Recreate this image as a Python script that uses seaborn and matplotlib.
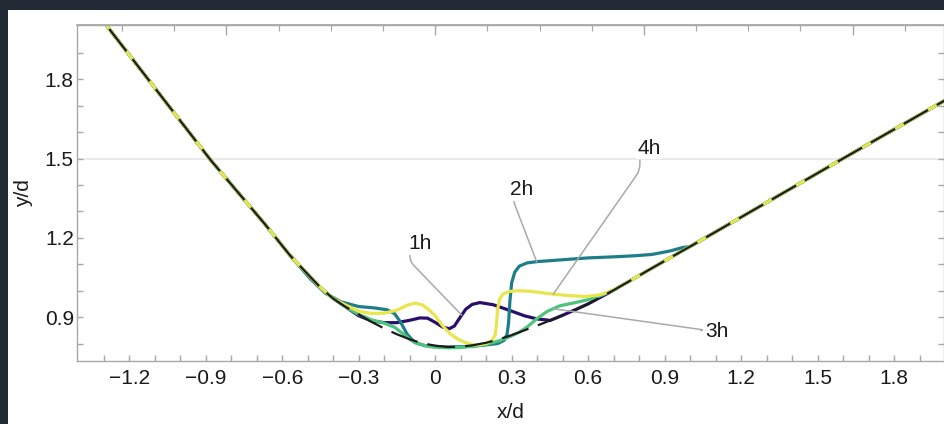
import numpy as np
import pandas as pd
import matplotlib
matplotlib.use("Agg")
import matplotlib.pyplot as plt
from matplotlib.patches import Rectangle
from matplotlib.ticker import FixedLocator, FixedFormatter, NullFormatter
import seaborn as sns

# Initial bed profile (dashed reference)
base_x = [-1.40, -1.29, -0.88, -0.67, -0.57, -0.49, -0.45, -0.40, -0.35, -0.30,
          -0.25, -0.20, -0.15, -0.10, -0.05, 0.00, 0.05, 0.10, 0.15, 0.20,
          0.25, 0.30, 0.35, 0.40, 0.45, 0.50, 0.55, 0.60, 0.65, 0.70,
          0.76, 0.85, 0.95, 1.00, 1.60, 2.00]
base_y = [2.141, 2.004, 1.493, 1.254, 1.134, 1.052, 1.012, 0.970, 0.938, 0.910,
          0.882, 0.857, 0.835, 0.816, 0.801, 0.792, 0.787, 0.788, 0.794, 0.803,
          0.816, 0.832, 0.850, 0.868, 0.887, 0.907, 0.928, 0.950, 0.976, 1.002,
          1.035, 1.085, 1.140, 1.167, 1.500, 1.720]

# Deformed part of each profile (outside it the profile sits on the initial bed)
mid_1h_x = [-0.30, -0.25, -0.20, -0.15, -0.10, -0.06, -0.03, 0.00, 0.03, 0.055,
            0.075, 0.097, 0.12, 0.145, 0.175, 0.227, 0.29, 0.35, 0.40, 0.44]
mid_1h_y = [0.905, 0.886, 0.879, 0.879, 0.888, 0.897, 0.896, 0.880, 0.862, 0.856,
            0.866, 0.898, 0.930, 0.948, 0.955, 0.947, 0.926, 0.905, 0.893, 0.889]

mid_2h_x = [-0.49, -0.43, -0.37, -0.30, -0.24, -0.19, -0.16, -0.135, -0.11, -0.08,
            -0.04, 0.00, 0.05, 0.10, 0.15, 0.20, 0.245, 0.27, 0.282, 0.288,
            0.293, 0.30, 0.312, 0.33, 0.36, 0.40, 0.50, 0.60, 0.70, 0.78,
            0.85, 0.92, 0.97]
mid_2h_y = [1.045, 0.990, 0.958, 0.940, 0.935, 0.928, 0.914, 0.880, 0.835, 0.804,
            0.792, 0.789, 0.787, 0.788, 0.790, 0.795, 0.800, 0.812, 0.835, 0.880,
            0.960, 1.030, 1.070, 1.093, 1.105, 1.110, 1.117, 1.124, 1.128, 1.132,
            1.137, 1.150, 1.163]

mid_3h_x = [-0.25, -0.20, -0.16, -0.13, -0.10, -0.07, -0.03, 0.00, 0.05, 0.10,
            0.15, 0.20, 0.25, 0.29, 0.33, 0.36, 0.40, 0.44, 0.49, 0.55,
            0.60, 0.65]
mid_3h_y = [0.890, 0.877, 0.862, 0.840, 0.816, 0.800, 0.790, 0.786, 0.784, 0.785,
            0.790, 0.797, 0.810, 0.825, 0.843, 0.862, 0.895, 0.922, 0.943, 0.955,
            0.966, 0.982]

mid_4h_x = [-0.35, -0.30, -0.25, -0.20, -0.15, -0.11, -0.08, -0.05, -0.025, 0.00,
            0.03, 0.06, 0.09, 0.12, 0.15, 0.18, 0.205, 0.225, 0.236, 0.241,
            0.245, 0.252, 0.265, 0.29, 0.33, 0.37, 0.42, 0.47, 0.53, 0.59,
            0.64, 0.68, 0.72]
mid_4h_y = [0.945, 0.922, 0.914, 0.915, 0.926, 0.945, 0.953, 0.946, 0.928, 0.905,
            0.866, 0.836, 0.816, 0.803, 0.795, 0.796, 0.802, 0.815, 0.835, 0.880,
            0.930, 0.965, 0.987, 0.997, 1.000, 0.998, 0.992, 0.986, 0.981, 0.978,
            0.983, 0.995, 1.013]

times = ["1h", "2h", "3h", "4h"]
colors = ["#2b0d6c", "#1d7e8a", "#4cc47c", "#e8e64c"]

x_ticks = [-1.2, -0.9, -0.6, -0.3, 0.0, 0.3, 0.6, 0.9, 1.2, 1.5, 1.8]
x_tick_labels = ["\u22121.2", "\u22120.9", "\u22120.6", "\u22120.3", "0",
                 "0.3", "0.6", "0.9", "1.2", "1.5", "1.8"]
y_ticks = [0.9, 1.2, 1.5, 1.8]
y_tick_labels = ["0.9", "1.2", "1.5", "1.8"]


def full_profile(mx, my):
    xs = [x for x in base_x if x < mx[0]] + list(mx) + [x for x in base_x if x > mx[-1]]
    ys = ([y for x, y in zip(base_x, base_y) if x < mx[0]] + list(my)
          + [y for x, y in zip(base_x, base_y) if x > mx[-1]])
    return xs, ys


mids = {"1h": (mid_1h_x, mid_1h_y), "2h": (mid_2h_x, mid_2h_y),
        "3h": (mid_3h_x, mid_3h_y), "4h": (mid_4h_x, mid_4h_y)}
frames = []
for t in times:
    xs, ys = full_profile(*mids[t])
    frames.append(pd.DataFrame({"x": xs, "y": ys, "time": t}))
profiles = pd.concat(frames, ignore_index=True)

sns.set_theme(style="white")
plt.rcParams["font.family"] = ["Liberation Sans", "DejaVu Sans"]

W, H = 945, 424
FS = 15
TXT = "#1a1a1a"
fig = plt.figure(figsize=(W / 100, H / 100), dpi=100)
fig.patch.set_facecolor("#222a36")
fig.add_artist(Rectangle((8 / W, 0), 1, 1 - 10 / H, transform=fig.transFigure,
                         facecolor="white", edgecolor="none", zorder=-5))

ax = fig.add_axes([77.3 / W, (H - 361) / H, (944 - 77.3) / W, (361 - 25) / H])
ax.set_facecolor("white")

ax.axhline(1.5, color="#e8e8e8", lw=1.3, zorder=0)

sns.lineplot(data=profiles, x="x", y="y", hue="time", palette=colors,
             hue_order=times, sort=False, estimator=None, lw=2.3, legend=False,
             ax=ax, zorder=2)
sns.lineplot(x=base_x, y=base_y, sort=False, estimator=None, color="#1c1c1c",
             lw=1.6, linestyle=(0, (12.6, 4.5)), ax=ax, zorder=3)

ax.set_xlim(-1.404, 1.996)
ax.set_ylim(0.734, 2.005)

# Frame and ticks
spine_c = "#a8a8a8"
for s in ax.spines.values():
    s.set_color(spine_c)
    s.set_linewidth(1.0)

ax.xaxis.set_major_locator(FixedLocator(x_ticks))
ax.xaxis.set_major_formatter(FixedFormatter(x_tick_labels))
ax.xaxis.set_minor_locator(FixedLocator(np.round(np.arange(-1.3, 2.0, 0.1), 2)))
ax.yaxis.set_major_locator(FixedLocator(y_ticks))
ax.yaxis.set_major_formatter(FixedFormatter(y_tick_labels))
ax.yaxis.set_minor_locator(FixedLocator(np.round(np.arange(0.8, 2.0, 0.1), 2)))
ax.tick_params(axis="both", which="both", direction="in", color=spine_c,
               labelsize=FS, labelcolor=TXT, length=4.4, width=1.0)
ax.tick_params(axis="x", which="both", bottom=True, top=False, pad=5.5)
ax.tick_params(axis="y", which="both", left=True, right=True, pad=2.5)

top = ax.secondary_xaxis("top")
step = 0.2047
top.xaxis.set_major_locator(FixedLocator([k * step for k in range(-4, 9, 4)]))
top.xaxis.set_minor_locator(FixedLocator([k * step for k in range(-6, 10) if k % 4]))
top.xaxis.set_major_formatter(NullFormatter())
top.tick_params(which="both", direction="in", color=spine_c)
top.tick_params(which="major", length=7, width=1.0)
top.tick_params(which="minor", length=4.4, width=0.9)
top.spines["top"].set_color(spine_c)

ax.set_xlabel("x/d", fontsize=FS, color=TXT)
ax.set_ylabel("y/d", fontsize=FS, color=TXT)
ax.yaxis.set_label_coords((33.5 - 77.3) / (944 - 77.3), 0.5)
ax.xaxis.set_label_coords(0.5, (361 - 403.5) / (361 - 25))

# Callouts
lead_c = "#a9a9a9"
callouts = [
    ("1h", (-0.060, 1.178), (-0.099, 1.145), 0.104, "angle,angleA=-90,angleB=134,rad=6"),
    ("2h", (0.339, 1.382), (0.306, 1.348), 0.398, "angle,angleA=-90,angleB=111,rad=6"),
    ("4h", (0.839, 1.538), (0.803, 1.494), 0.463, "angle,angleA=-90,angleB=55,rad=6"),
    ("3h", (1.104, 0.844), (1.045, 0.850), 0.463, "angle,angleA=180,angleB=172,rad=6"),
]
for t, txt_pos, start, ax_x, cs in callouts:
    cx, cy = full_profile(*mids[t])
    end = (ax_x, float(np.interp(ax_x, cx, cy)))
    ax.annotate("", xy=end, xytext=start,
                arrowprops=dict(arrowstyle="-", color=lead_c, lw=1.1,
                                connectionstyle=cs, shrinkA=0, shrinkB=0),
                zorder=4)
    ax.text(*txt_pos, t, fontsize=FS, color=TXT, ha="center", va="center",
            bbox=dict(facecolor="white", edgecolor="none", pad=1.0), zorder=5)

fig.savefig("out.png", dpi=100)
